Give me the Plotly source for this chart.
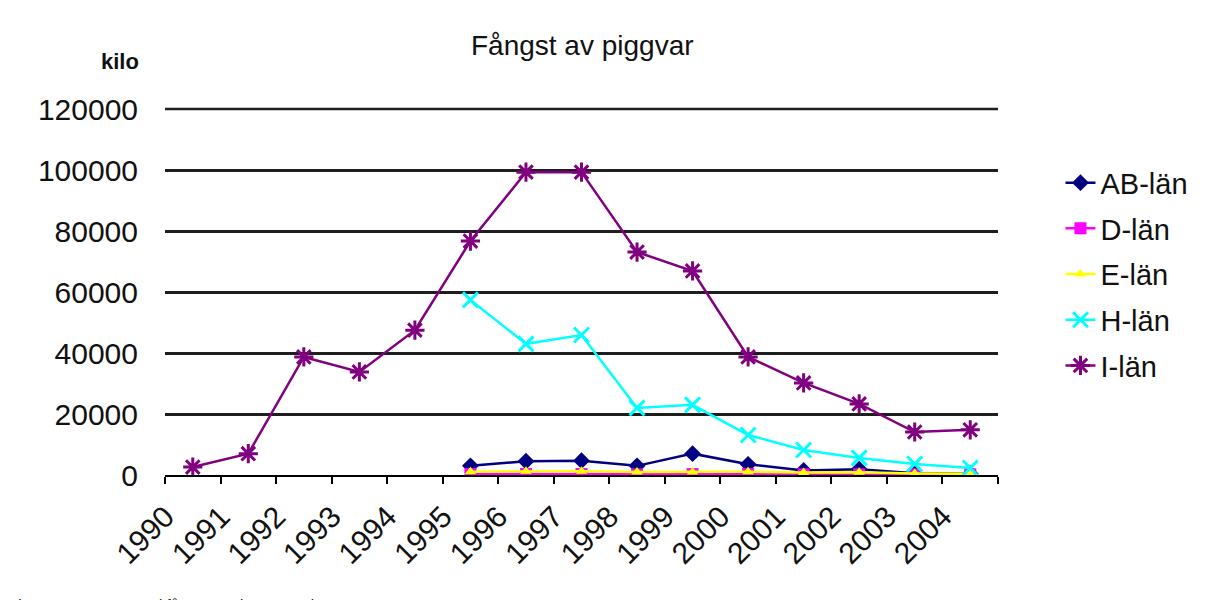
import plotly.graph_objects as go

YEARS = ["1990", "1991", "1992", "1993", "1994", "1995", "1996", "1997",
         "1998", "1999", "2000", "2001", "2002", "2003", "2004"]

# kilo per län; None = ingen uppgift
AB_LAN = [None, None, None, None, None, 3000, 4500, 4700, 3000, 7000, 3500, 1500, 1900, 600, 400]
D_LAN = [None, None, None, None, None, 300, 300, 300, 200, 300, 300, 200, 200, 200, 200]
E_LAN = [None, None, None, None, None, 1100, 1200, 1200, 1000, 1000, 1100, 800, 900, 500, 400]
H_LAN = [None, None, None, None, None, 57400, 43000, 45900, 22000, 23000, 13100, 8200, 5600, 3600, 2300]
I_LAN = [2600, 7000, 38700, 33800, 47500, 76700, 99300, 99300, 73100, 66900, 38700, 30200, 23300, 14100, 14800]

Y_TICKS = [0, 20000, 40000, 60000, 80000, 100000, 120000]

FONT = "Liberation Sans, Arial, sans-serif"
GRID = "#1e1e1e"

SERIES = [
    ("AB-län", AB_LAN, "#000080", "diamond", 13, 0),
    ("D-län", D_LAN, "#FF00FF", "square", 12, 0),
    ("E-län", E_LAN, "#FFFF00", "triangle-up", 10, 0),
    ("H-län", H_LAN, "#00FFFF", "x-thin-open", 15, 3),
    ("I-län", I_LAN, "#800080", "asterisk-open", 16, 3),
]

xs = list(range(len(YEARS)))

fig = go.Figure()
for name, values, color, symbol, size, lw in SERIES:
    marker = {"symbol": symbol, "size": size, "color": color}
    if lw:
        marker["line"] = {"color": color, "width": lw}
    fig.add_trace(
        go.Scatter(
            x=xs,
            y=values,
            name=name,
            legendgroup=name,
            mode="lines+markers",
            line={"color": color, "width": 2.5},
            marker=marker,
            connectgaps=False,
        )
    )

# sidan har 8 px marginal i body, därför är marginalerna förskjutna
fig.update_layout(
    width=1209,
    height=600,
    paper_bgcolor="white",
    plot_bgcolor="white",
    margin={"l": 157, "r": 219, "t": 101, "b": 133},
    font={"family": FONT, "size": 30, "color": "#111111"},
    title={
        "text": "Fångst av piggvar",
        "x": 0.475,
        "xanchor": "center",
        "y": 0.938,
        "yanchor": "middle",
        "font": {"size": 28, "color": "#111111"},
    },
    showlegend=True,
    legend={
        "x": 1.075,
        "xanchor": "left",
        "y": 0.868,
        "yanchor": "top",
        "font": {"size": 29, "color": "#111111"},
        "tracegroupgap": 5,
        "bgcolor": "rgba(0,0,0,0)",
    },
    annotations=[
        {
            "text": "<b>kilo</b>",
            "xref": "paper",
            "yref": "paper",
            "x": -0.054,
            "y": 1.13,
            "xanchor": "center",
            "yanchor": "middle",
            "showarrow": False,
            "font": {"size": 22, "color": "#111111"},
        },
        {
            "text": "Figur 15. Inrapporterad fångst av piggvar per län 1990–2004",
            "xref": "paper",
            "yref": "paper",
            "x": -0.19,
            "y": -0.325,
            "xanchor": "left",
            "yanchor": "top",
            "showarrow": False,
            "font": {"size": 15, "color": "#111111"},
        },
    ],
)

# översta stödlinjen ritas inte vid axelns kant, lägg till den
fig.add_shape(
    type="line",
    xref="paper",
    yref="paper",
    x0=0,
    x1=1,
    y0=1,
    y1=1,
    line={"color": GRID, "width": 2.5},
    layer="below",
)

fig.update_yaxes(
    range=[0, 120000],
    tickvals=Y_TICKS,
    ticktext=[str(v) for v in Y_TICKS],
    showgrid=True,
    gridcolor=GRID,
    gridwidth=2.5,
    zeroline=False,
    showline=False,
    ticks="",
    ticklabelstandoff=26,
)

fig.update_xaxes(
    range=[-0.5, len(YEARS) - 0.5],
    tickvals=[i - 0.49 for i in xs],
    ticktext=YEARS,
    tickangle=-45,
    ticks="",
    showgrid=False,
    zeroline=False,
    showline=True,
    linecolor="black",
    linewidth=2,
    ticklabelstandoff=10,
    minor={
        "tickvals": [i - 0.5 for i in range(len(YEARS) + 1)],
        "ticks": "outside",
        "ticklen": 7,
        "tickwidth": 2,
        "tickcolor": "black",
        "showgrid": False,
    },
)

fig.write_html("out.html")
